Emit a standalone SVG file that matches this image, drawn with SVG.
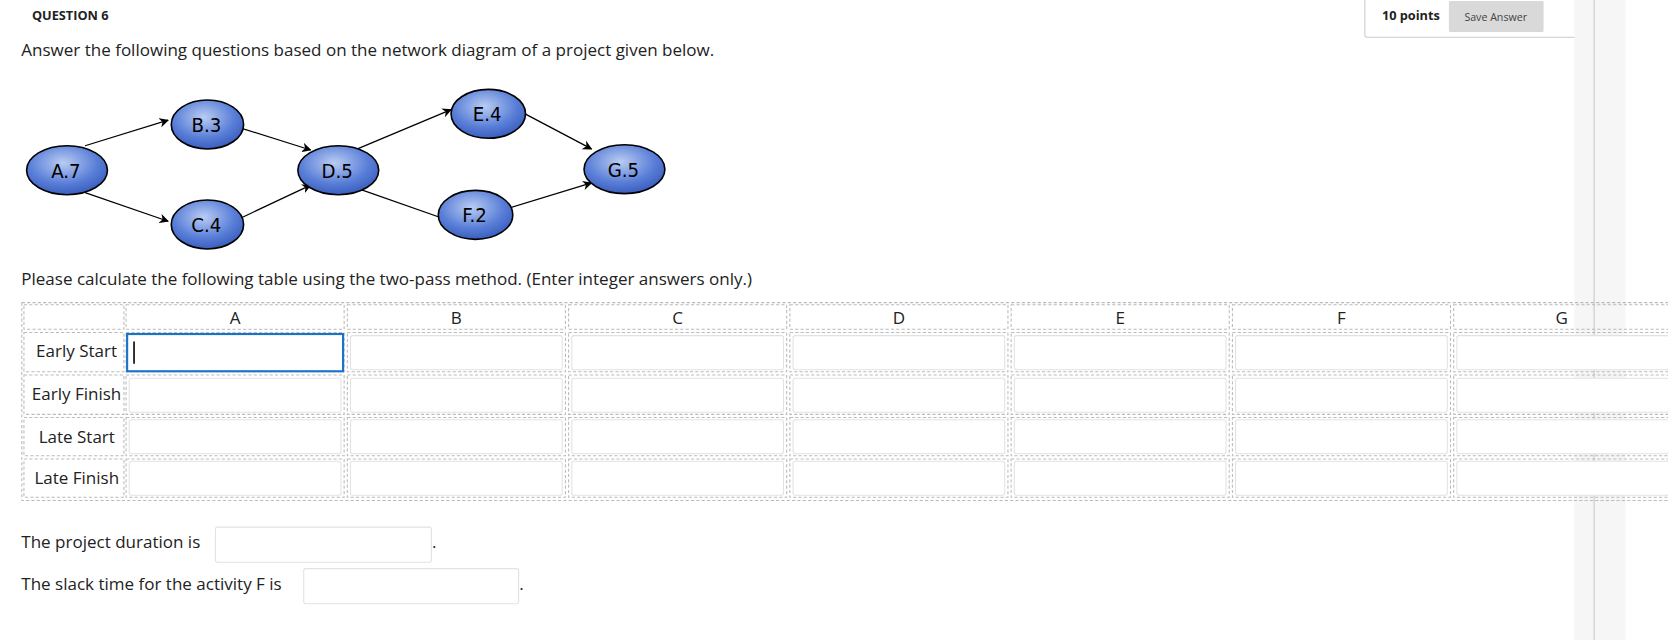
<svg xmlns="http://www.w3.org/2000/svg" width="1668" height="640" viewBox="0 0 1668 640">
<defs>
<radialGradient id="g" cx="0.45" cy="0.35" r="0.7"><stop offset="0" stop-color="#b9ccf2"/><stop offset="0.6" stop-color="#5a7fd8"/><stop offset="1" stop-color="#3457b8"/></radialGradient>
<marker id="ar" viewBox="0 0 10 10" refX="9" refY="5" markerWidth="9" markerHeight="9" orient="auto" markerUnits="userSpaceOnUse"><path d="M0,0 L10,5 L0,10 L3,5 z" fill="#000"/></marker>
<style>
text{font-family:"Open Sans","Liberation Sans",sans-serif;fill:#222}
.t{font-size:16px}
.n ellipse{fill:url(#g);stroke:#000;stroke-width:1.5}
.n text{font-family:"DejaVu Sans Condensed","Liberation Sans",sans-serif;font-size:19px;fill:#000;text-anchor:middle}
.c line{stroke:#000;stroke-width:1.2;marker-end:url(#ar)}
.d{fill:none;stroke:#bbb;stroke-width:1;stroke-dasharray:3,2}
.in{fill:#fff;stroke:#e2e2e2;stroke-width:1}
.h{font-size:16px;text-anchor:middle}
.l{font-size:16px;text-anchor:end}
</style>
</defs>
<rect width="1668" height="640" fill="#fff"/>
<g transform="scale(1.0638)">
<rect x="1480" y="0" width="48" height="602" fill="#f6f6f6"/>
<line x1="1498.5" y1="0" x2="1498.5" y2="602" stroke="#c8c8c8"/>
<text x="30" y="19" style="font-size:12px;font-weight:bold">QUESTION 6</text>
<path d="M1283,0 V33 Q1283,35 1285,35 H1480" fill="none" stroke="#ccc"/>
<text x="1299" y="19" style="font-size:12px;font-weight:bold">10 points</text>
<rect x="1362" y="1" width="89" height="29" fill="#d9d9d9" rx="1"/>
<text x="1406" y="20" style="font-size:10px;text-anchor:middle;fill:#444">Save Answer</text>
<text x="20" y="53" class="t">Answer the following questions based on the network diagram of a project given below.</text>
<g class="c">
<line x1="80" y1="137" x2="158" y2="113"/>
<line x1="80" y1="181" x2="158" y2="208"/>
<line x1="222" y1="119" x2="292" y2="141"/>
<line x1="222" y1="207" x2="292" y2="174"/>
<line x1="336" y1="140" x2="424" y2="103"/>
<line x1="336" y1="177" x2="424" y2="208"/>
<line x1="486" y1="103" x2="556" y2="140"/>
<line x1="474" y1="197" x2="556" y2="172"/>
</g>
<g id="A" class="n"><ellipse cx="63" cy="160" rx="38" ry="23"/><text x="62" y="167">A.7</text></g>
<g id="B" class="n"><ellipse cx="195" cy="117" rx="34" ry="23"/><text x="194" y="124">B.3</text></g>
<g id="C" class="n"><ellipse cx="195" cy="211" rx="34" ry="23"/><text x="194" y="218">C.4</text></g>
<g id="D" class="n"><ellipse cx="318" cy="160" rx="38" ry="23"/><text x="317" y="167">D.5</text></g>
<g id="E" class="n"><ellipse cx="459" cy="107" rx="35" ry="23"/><text x="458" y="114">E.4</text></g>
<g id="F" class="n"><ellipse cx="447" cy="202" rx="35" ry="23"/><text x="446" y="209">F.2</text></g>
<g id="G" class="n"><ellipse cx="587" cy="159" rx="38" ry="23"/><text x="586" y="166">G.5</text></g>
<text x="20" y="268" class="t">Please calculate the following table using the two-pass method. (Enter integer answers only.)</text>
<g id="table">
<rect x="20.5" y="284.5" width="1548" height="186" class="d"/>
<rect x="22.5" y="286.5" width="94" height="23" class="d"/>
<rect x="22.5" y="312.5" width="94" height="37" class="d"/>
<rect x="22.5" y="352.5" width="94" height="37" class="d"/>
<rect x="22.5" y="392.5" width="94" height="36" class="d"/>
<rect x="22.5" y="431.5" width="94" height="36" class="d"/>
<text x="110" y="336" class="l">Early Start</text>
<text x="114" y="376" class="l">Early Finish</text>
<text x="108" y="416" class="l">Late Start</text>
<text x="112" y="455" class="l">Late Finish</text>
<g>
<rect x="118.5" y="286.5" width="205" height="23" class="d"/><rect x="118.5" y="312.5" width="205" height="37" class="d"/><rect x="118.5" y="352.5" width="205" height="37" class="d"/><rect x="118.5" y="392.5" width="205" height="36" class="d"/><rect x="118.5" y="431.5" width="205" height="36" class="d"/>
<rect x="326.5" y="286.5" width="205" height="23" class="d"/><rect x="326.5" y="312.5" width="205" height="37" class="d"/><rect x="326.5" y="352.5" width="205" height="37" class="d"/><rect x="326.5" y="392.5" width="205" height="36" class="d"/><rect x="326.5" y="431.5" width="205" height="36" class="d"/>
<rect x="534.5" y="286.5" width="205" height="23" class="d"/><rect x="534.5" y="312.5" width="205" height="37" class="d"/><rect x="534.5" y="352.5" width="205" height="37" class="d"/><rect x="534.5" y="392.5" width="205" height="36" class="d"/><rect x="534.5" y="431.5" width="205" height="36" class="d"/>
<rect x="742.5" y="286.5" width="205" height="23" class="d"/><rect x="742.5" y="312.5" width="205" height="37" class="d"/><rect x="742.5" y="352.5" width="205" height="37" class="d"/><rect x="742.5" y="392.5" width="205" height="36" class="d"/><rect x="742.5" y="431.5" width="205" height="36" class="d"/>
<rect x="950.5" y="286.5" width="205" height="23" class="d"/><rect x="950.5" y="312.5" width="205" height="37" class="d"/><rect x="950.5" y="352.5" width="205" height="37" class="d"/><rect x="950.5" y="392.5" width="205" height="36" class="d"/><rect x="950.5" y="431.5" width="205" height="36" class="d"/>
<rect x="1158.5" y="286.5" width="205" height="23" class="d"/><rect x="1158.5" y="312.5" width="205" height="37" class="d"/><rect x="1158.5" y="352.5" width="205" height="37" class="d"/><rect x="1158.5" y="392.5" width="205" height="36" class="d"/><rect x="1158.5" y="431.5" width="205" height="36" class="d"/>
<rect x="1366.5" y="286.5" width="205" height="23" class="d"/><rect x="1366.5" y="312.5" width="205" height="37" class="d"/><rect x="1366.5" y="352.5" width="205" height="37" class="d"/><rect x="1366.5" y="392.5" width="205" height="36" class="d"/><rect x="1366.5" y="431.5" width="205" height="36" class="d"/>
</g>
<g>
<rect x="329.5" y="315.5" width="199" height="32" rx="2" class="in"/><rect x="121.5" y="355.5" width="199" height="32" rx="2" class="in"/><rect x="121.5" y="394.5" width="199" height="32" rx="2" class="in"/><rect x="121.5" y="433.5" width="199" height="32" rx="2" class="in"/>
<rect x="329.5" y="355.5" width="199" height="32" rx="2" class="in"/><rect x="329.5" y="394.5" width="199" height="32" rx="2" class="in"/><rect x="329.5" y="433.5" width="199" height="32" rx="2" class="in"/>
<rect x="537.5" y="315.5" width="199" height="32" rx="2" class="in"/><rect x="537.5" y="355.5" width="199" height="32" rx="2" class="in"/><rect x="537.5" y="394.5" width="199" height="32" rx="2" class="in"/><rect x="537.5" y="433.5" width="199" height="32" rx="2" class="in"/>
<rect x="745.5" y="315.5" width="199" height="32" rx="2" class="in"/><rect x="745.5" y="355.5" width="199" height="32" rx="2" class="in"/><rect x="745.5" y="394.5" width="199" height="32" rx="2" class="in"/><rect x="745.5" y="433.5" width="199" height="32" rx="2" class="in"/>
<rect x="953.5" y="315.5" width="199" height="32" rx="2" class="in"/><rect x="953.5" y="355.5" width="199" height="32" rx="2" class="in"/><rect x="953.5" y="394.5" width="199" height="32" rx="2" class="in"/><rect x="953.5" y="433.5" width="199" height="32" rx="2" class="in"/>
<rect x="1161.5" y="315.5" width="199" height="32" rx="2" class="in"/><rect x="1161.5" y="355.5" width="199" height="32" rx="2" class="in"/><rect x="1161.5" y="394.5" width="199" height="32" rx="2" class="in"/><rect x="1161.5" y="433.5" width="199" height="32" rx="2" class="in"/>
<rect x="1369.5" y="315.5" width="199" height="32" rx="2" class="in"/><rect x="1369.5" y="355.5" width="199" height="32" rx="2" class="in"/><rect x="1369.5" y="394.5" width="199" height="32" rx="2" class="in"/><rect x="1369.5" y="433.5" width="199" height="32" rx="2" class="in"/>
</g>
<rect x="119.5" y="314" width="203" height="35" fill="#fff" stroke="#1a73c8" stroke-width="2"/>
<line x1="126" y1="321" x2="126" y2="342" stroke="#000" stroke-width="1.5"/>
<text x="221" y="305" class="h">A</text>
<text x="429" y="305" class="h">B</text>
<text x="637" y="305" class="h">C</text>
<text x="845" y="305" class="h">D</text>
<text x="1053" y="305" class="h">E</text>
<text x="1261" y="305" class="h">F</text>
<text x="1468" y="305" class="h">G</text>
</g>
<text x="20" y="515" class="t">The project duration is</text>
<rect x="202.5" y="495.5" width="203" height="33" rx="2" class="in"/>
<text x="406" y="515" class="t">.</text>
<text x="20" y="555" class="t">The slack time for the activity F is</text>
<rect x="285.5" y="534.5" width="202" height="33" rx="2" class="in"/>
<text x="488" y="555" class="t">.</text>
</g>
</svg>
